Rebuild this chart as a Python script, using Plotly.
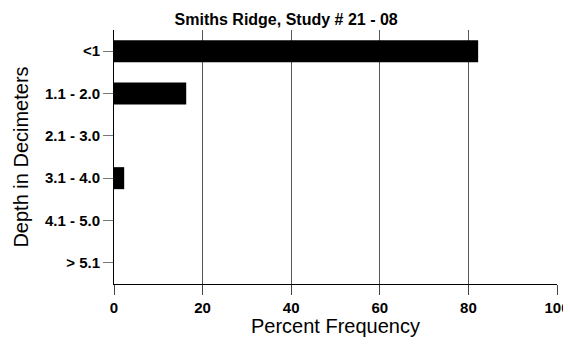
import plotly.graph_objects as go

depths = ['<1', '1.1 - 2.0', '2.1 - 3.0', '3.1 - 4.0', '4.1 - 5.0', '> 5.1']
percent = [82.2, 16.3, 0, 2.3, 0, 0]
x_ticks = [0, 20, 40, 60, 80, 100]

# the page body has an 8px margin, so the figure is sized to fit inside it
bar = go.Bar(x=percent, y=depths, orientation='h',
             marker=dict(color='black', line=dict(width=0)), width=0.52)

layout = go.Layout(
    width=563, height=329,
    margin=dict(l=106, r=14, t=22, b=53, autoexpand=False),
    paper_bgcolor='white', plot_bgcolor='white',
    font=dict(family='Liberation Sans, Arial, sans-serif', color='black'),
    title=dict(text='<b>Smiths Ridge, Study # 21 - 08</b>', x=0.494, xanchor='center',
               y=0.966, yanchor='middle', font=dict(size=16)),
    showlegend=False,
    xaxis=dict(range=[0, 100], tickvals=x_ticks, ticks='outside', ticklen=10,
               tickcolor='#444', tickwidth=1, automargin=False,
               ticklabeloverflow='allow',
               showgrid=True, gridcolor='#555', gridwidth=1, zeroline=False,
               showline=True, linecolor='black', linewidth=1,
               tickfont=dict(size=15, weight='bold'),
               title=dict(text='Percent Frequency', font=dict(size=20), standoff=6)),
    yaxis=dict(range=[5.5, -0.5], ticks='outside', ticklen=10, automargin=False,
               tickcolor='#777', showgrid=False, zeroline=False,
               showline=True, linecolor='black', linewidth=1,
               tickfont=dict(size=15, weight='bold'),
               title=dict(text='Depth in Decimeters', font=dict(size=20), standoff=10)),
)

fig = go.Figure(data=[bar], layout=layout)
fig.write_html('out.html')
